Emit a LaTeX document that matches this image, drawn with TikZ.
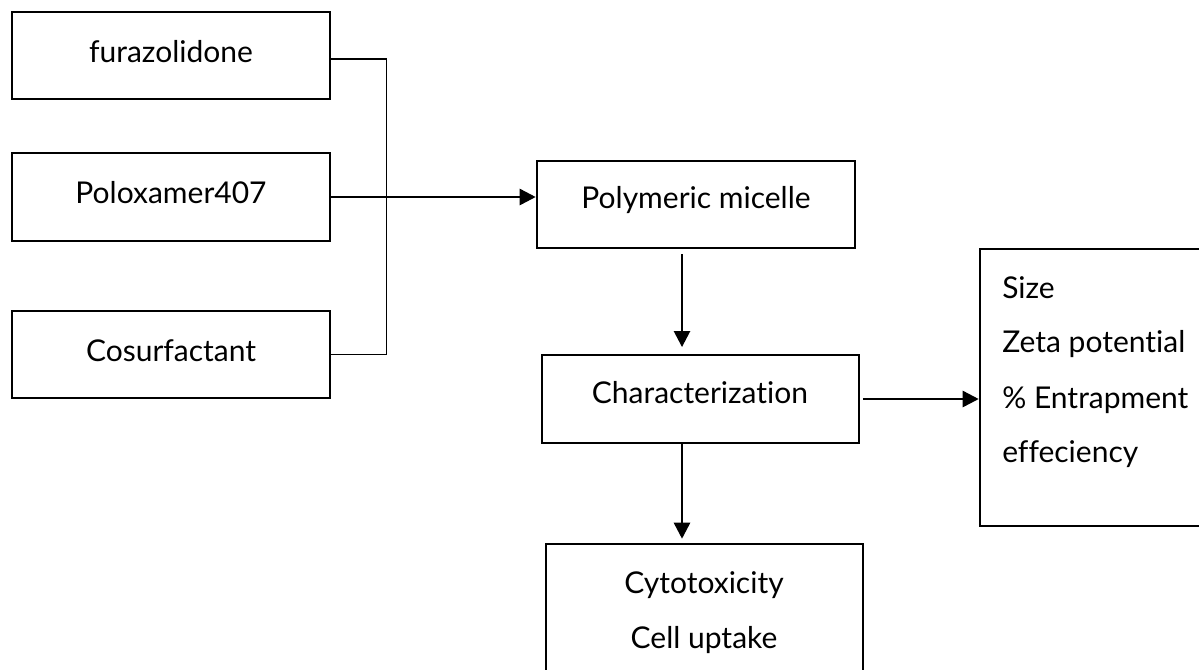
\documentclass[tikz,border=0pt]{standalone}
\usepackage{fontspec}
\setmainfont{Lato}[Ligatures={NoCommon}]
\usetikzlibrary{arrows.meta}
\begin{document}
\begin{tikzpicture}[x=0.75pt,y=-0.75pt,
  box/.style={draw, line width=1.9pt, rectangle, inner sep=0pt},
  txt/.style={anchor=base, inner sep=0pt, font=\fontsize{22.5}{27}\selectfont},
  ltxt/.style={anchor=base west, inner sep=0pt, font=\fontsize{22.5}{27}\selectfont},
  thinline/.style={line width=0.8pt},
  arr/.style={line width=1.9pt, -{Triangle[length=12pt,width=12pt]}}]
\useasboundingbox (0,0) rectangle (1199,669);
\clip (0,0) rectangle (1199,669);
% boxes
\node[box, minimum width=238.5pt, minimum height=65.25pt] (fur) at (171,55.5) {};
\node[box, minimum width=238.5pt, minimum height=66pt] (pol) at (171,197) {};
\node[box, minimum width=238.5pt, minimum height=65.25pt] (cos) at (171,354.5) {};
\node[box, minimum width=238.5pt, minimum height=65.25pt] (mic) at (696,204.5) {};
\node[box, minimum width=237.75pt, minimum height=66pt] (cha) at (700.5,399) {};
\node[box, minimum width=176.25pt, minimum height=207.75pt] (res) at (1097.5,387.5) {};
\node[box, minimum width=237.75pt, minimum height=117pt] (cyt) at (704.5,622) {};
% texts
\node[txt] (furT) at (171,62) {furazolidone};
\node[txt] (polT) at (171,203) {Poloxamer407};
\node[txt] (cosT) at (171,361) {Cosurfactant};
\node[txt] (micT) at (696,208) {Polymeric micelle};
\node[txt] (chaT) at (700,403) {Characterization};
\node[ltxt] (r1) at (1002,298) {Size};
\node[ltxt] (r2) at (1002,352) {Zeta potential};
\node[ltxt] (r3) at (1002,408) {\% Entrapment};
\node[ltxt] (r4) at (1002,462) {effeciency};
\node[txt] (cyt1) at (704,593) {Cytotoxicity};
\node[txt] (cyt2) at (704,648) {Cell uptake};
% connectors
\coordinate (xa) at (682,0);
\draw[thinline] (fur.east) ++(0,3.5) -- ++(55,0) |- (cos.east);
\draw[arr] (pol.east) -- (pol.east -| mic.west);
\draw[arr, shorten <=3.75pt, shorten >=5pt] (mic.south -| xa) -- (cha.north -| xa);
\draw[arr, shorten <=2pt] (cha.east) -- (cha.east -| res.west);
\draw[arr, shorten >=3pt] (cha.south -| xa) -- (cyt.north -| xa);
\end{tikzpicture}
\end{document}
